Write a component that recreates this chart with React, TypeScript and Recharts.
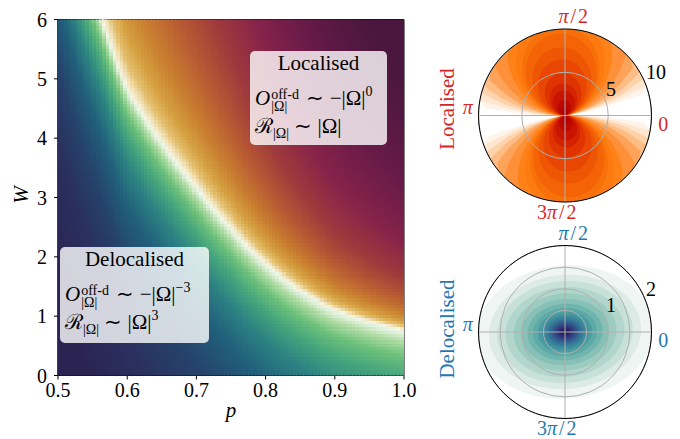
import React from 'react';
import {
  ComposedChart, Scatter, Line, XAxis, YAxis, ReferenceArea,
  RadarChart, Radar, PolarGrid, PolarAngleAxis, PolarRadiusAxis,
} from 'recharts';

const SERIF = "'Liberation Serif', 'Times New Roman', Times, serif";
const RED = '#d62728';
const BLUE = '#1f77b4';

// ---------- main panel data ----------
// critical (white) line W_c(p)
const CURVE_P = [0.5, 0.52, 0.54, 0.565, 0.6, 0.65, 0.7, 0.75, 0.8, 0.85, 0.9, 0.95, 1.0];
const CURVE_W = [8.3, 7.5, 6.75, 6.0, 4.85, 3.95, 3.2, 2.5, 1.9, 1.45, 1.12, 0.92, 0.77];
const X_TICKS = [0.5, 0.6, 0.7, 0.8, 0.9, 1.0];
const Y_TICKS = [0, 1, 2, 3, 4, 5, 6];
const P_RANGE = [0.5, 1.0];
const W_RANGE = [0, 6];
const NX = 100;
const NY = 110;

// colour ramps (style)
const BELOW: [number, string][] = [
  [0, '#eef7ea'], [0.08, '#dcefd6'], [0.2, '#b0dca4'], [0.45, '#6cc07a'], [0.8, '#45a57c'],
  [1.3, '#2c8282'], [2.0, '#215f7b'], [3.0, '#25436c'], [4.3, '#2a305e'], [6.5, '#2b2453'],
];
const ABOVE: [number, string][] = [
  [0, '#f8f2e0'], [0.05, '#f0e2b8'], [0.12, '#e4c070'], [0.25, '#d5a040'], [0.45, '#c97f30'],
  [0.75, '#b85a33'], [1.1, '#a03a3c'], [1.55, '#86234a'], [2.1, '#661a48'], [2.7, '#4a173e'],
];

const hex = (h: string) => [1, 3, 5].map((i) => parseInt(h.slice(i, i + 2), 16));
function ramp(stops: [number, string][], t: number): string {
  if (t <= stops[0][0]) return stops[0][1];
  for (let i = 0; i < stops.length - 1; i++) {
    const [t0, c0] = stops[i];
    const [t1, c1] = stops[i + 1];
    if (t <= t1) {
      const f = (t - t0) / (t1 - t0);
      const a = hex(c0), b = hex(c1);
      return `rgb(${a.map((v, k) => Math.round(v + (b[k] - v) * f)).join(',')})`;
    }
  }
  return stops[stops.length - 1][1];
}
function wcAt(p: number): number {
  for (let i = 0; i < CURVE_P.length - 1; i++) {
    if (p <= CURVE_P[i + 1]) {
      const f = (p - CURVE_P[i]) / (CURVE_P[i + 1] - CURVE_P[i]);
      return Math.exp(Math.log(CURVE_W[i]) + (Math.log(CURVE_W[i + 1]) - Math.log(CURVE_W[i])) * f);
    }
  }
  return CURVE_W[CURVE_W.length - 1];
}
function colourAt(p: number, w: number): string {
  const c = wcAt(p);
  if (w >= c) return ramp(ABOVE, Math.log2(w / c));
  return ramp(BELOW, c - w);
}

const curveData = CURVE_P.map((p, i) => ({ p, W: CURVE_W[i] }));
const cells: { p: number; W: number; col: string }[] = [];
for (let i = 0; i < NX; i++) {
  for (let j = 0; j < NY; j++) {
    const p = P_RANGE[0] + ((i + 0.5) * (P_RANGE[1] - P_RANGE[0])) / NX;
    const W = W_RANGE[0] + ((j + 0.5) * (W_RANGE[1] - W_RANGE[0])) / NY;
    cells.push({ p, W, col: colourAt(p, W) });
  }
}

const CHART_W = 420, CHART_H = 439;
const MARGIN = { top: 19.5, right: 16, bottom: 23.5, left: 18 };
const Y_AXIS_W = 40, X_AXIS_H = 40;
const PLOT_W = CHART_W - MARGIN.left - MARGIN.right - Y_AXIS_W;
const PLOT_H = CHART_H - MARGIN.top - MARGIN.bottom - X_AXIS_H;
const CELL_W = PLOT_W / NX + 1;
const CELL_H = PLOT_H / NY + 1;

const CellShape = (props: any) => {
  const { cx, cy } = props;
  const col = props.payload?.col ?? props.col;
  return (
    <rect x={cx - CELL_W / 2} y={cy - CELL_H / 2} width={CELL_W} height={CELL_H} fill={col} stroke="none" shapeRendering="crispEdges" />
  );
};

const TXT = { fontFamily: SERIF, fontSize: 20 };
const XTick = (props: any) => {
  const { x, y, payload } = props;
  return (
    <text x={x} y={y} dy={15} textAnchor="middle" fill="#000" style={TXT}>{Number(payload.value).toFixed(1)}</text>
  );
};
const YTick = (props: any) => {
  const { x, y, payload } = props;
  return (
    <text x={x} y={y} dy={7} textAnchor="end" fill="#000" style={TXT}>{String(payload.value)}</text>
  );
};

// ---------- polar panels data ----------
const ANGLES = Array.from({ length: 72 }, (_, i) => i * 5);
// relative radius of a contour vs angle (0..90 deg, step 5), mirrored to all quadrants
const LOC_PROFILE = [0, 0.026, 0.072, 0.132, 0.2, 0.275, 0.354, 0.434, 0.515, 0.595, 0.67, 0.742, 0.806, 0.863, 0.911, 0.949, 0.977, 0.994, 1.0];
const LOC_LEVELS = [128, 76, 52, 37, 27, 19.4, 14.2, 11.9, 10.4, 9.5, 7.9, 6.5, 4.9, 3.7, 2.9, 1.8, 1.0, 0.5];
const LOC_COLORS = [
  '#fff4ea', '#ffe6cf', '#fed3ab', '#fdbd84', '#fda45a', '#fd9038', '#ff8218', '#fc7a10', '#f8700a',
  '#f46406', '#ee5604', '#e84602', '#df3400', '#d42300', '#c81400', '#bd0800', '#b20200', '#aa0000',
];
const LOC_RMAX = 10;
const LOC_RTICKS = [5, 10];
const LOC_RLABELS = [5, 10];

const DELOC_PROFILE = [1, 0.997, 0.988, 0.975, 0.957, 0.937, 0.915, 0.892, 0.87, 0.849, 0.829, 0.811, 0.795, 0.781, 0.77, 0.761, 0.755, 0.751, 0.75];
const DELOC_LEVELS = [2.05, 1.76, 1.57, 1.38, 1.19, 1.02, 0.87, 0.74, 0.63, 0.54, 0.46, 0.39, 0.33, 0.28, 0.23, 0.19, 0.155, 0.12, 0.09, 0.06, 0.035];
const DELOC_COLORS = [
  '#eef5f2', '#dcebe5', '#c8e1d8', '#b2d6cb', '#9ccbc0', '#86c0b6', '#70b5ad', '#5ca9a6', '#4b9ca1',
  '#3f8e9e', '#387f9a', '#347095', '#33618f', '#325289', '#324483', '#31387b', '#2f2e72', '#2c2668',
  '#2a215f', '#281d57', '#261a50',
];
const DELOC_RMAX = 2;
const DELOC_RTICKS = [0.5, 1, 1.5, 2];
const DELOC_RLABELS = [1, 2];

const fold = (a: number) => (a <= 90 ? a : a <= 180 ? 180 - a : a <= 270 ? a - 180 : 360 - a);
function buildRows(profile: number[], levels: number[], rmax: number) {
  return ANGLES.map((a) => {
    const row: Record<string, number> = { angle: a, edge: rmax };
    const f = profile[Math.round(fold(a) / 5)];
    levels.forEach((c, k) => {
      row[`l${k}`] = Math.min(c * f, rmax);
    });
    return row;
  });
}
const locRows = buildRows(LOC_PROFILE, LOC_LEVELS, LOC_RMAX);
const delocRows = buildRows(DELOC_PROFILE, DELOC_LEVELS, DELOC_RMAX);

const POLAR_W = 250, POLAR_H = 228, POLAR_R = 86.5;

function angleLabel(v: number) {
  if (v === 0) return <tspan>0</tspan>;
  if (v === 90) return (<><tspan fontStyle="italic">π</tspan><tspan dx={2}>/</tspan><tspan dx={2}>2</tspan></>);
  if (v === 180) return <tspan fontStyle="italic">π</tspan>;
  return (<><tspan>3</tspan><tspan fontStyle="italic">π</tspan><tspan dx={2}>/</tspan><tspan dx={2}>2</tspan></>);
}
const makeAngleTick = (color: string) => (props: any) => {
  const { x, y, payload } = props;
  const v = Number(payload?.value);
  if (![0, 90, 180, 270].includes(v)) return <g />;
  let tx = x, ty = y, anchor: any = 'middle';
  if (v === 0) { tx = x - 1; anchor = 'start'; }
  if (v === 180) { tx = x + 2; anchor = 'end'; }
  if (v === 90) { ty = y - 5; }
  if (v === 270) { ty = y + 2; }
  return (
    <text x={tx} y={ty} textAnchor={anchor} dominantBaseline="central" fill={color} style={TXT}>
      {angleLabel(v)}
    </text>
  );
};
const makeRadiusTick = (labels: number[]) => (props: any) => {
  const { x, y, payload } = props;
  const v = Number(payload?.value);
  if (!labels.includes(v)) return <g />;
  return (
    <text x={x + 1} y={y - 3} textAnchor="start" fill="#000" style={TXT}>{String(v)}</text>
  );
};

function PolarPanel(props: {
  top: number; cy: number; rows: any[]; levels: number[]; colors: string[]; rmax: number;
  rticks: number[]; rlabels: number[]; color: string;
}) {
  const { top, cy, rows, levels, colors, rmax, rticks, rlabels, color } = props;
  const common = {
    width: POLAR_W, height: POLAR_H, data: rows, cx: 135, cy, outerRadius: POLAR_R,
    startAngle: 0, endAngle: 360, margin: { top: 0, right: 0, bottom: 0, left: 0 },
  };
  return (
    <>
      <div style={{ position: 'absolute', left: 430, top }}>
        <RadarChart {...common}>
          <PolarAngleAxis dataKey="angle" tick={false} tickLine={false} axisLine={false} />
          <PolarRadiusAxis type="number" domain={[0, rmax]} tick={false} axisLine={false} />
          {levels.map((_, k) => (
            <Radar key={k} dataKey={`l${k}`} fill={colors[k]} fillOpacity={1} stroke="none" dot={false} isAnimationActive={false} />
          ))}
        </RadarChart>
      </div>
      <div style={{ position: 'absolute', left: 430, top }}>
        <RadarChart {...common}>
          <PolarGrid gridType="circle" polarAngles={[0, 90, 180, 270]} stroke="#b0b0b0" strokeWidth={1} />
          <PolarAngleAxis dataKey="angle" tick={makeAngleTick(color)} tickLine={false} axisLine={false} />
          <PolarRadiusAxis type="number" angle={22.5} domain={[0, rmax]} ticks={rticks as any} tickCount={rticks.length + 1}
            tick={makeRadiusTick(rlabels)} axisLine={false} />
          <Radar dataKey="edge" fill="none" stroke="#000" strokeWidth={1} dot={false} isAnimationActive={false} />
        </RadarChart>
      </div>
    </>
  );
}

// ---------- annotation boxes ----------
const DELOC_TEXT = { title: 'Delocalised', oExp: '−3', rExp: '3' };
const LOC_TEXT = { title: 'Localised', oExp: '0', rExp: '' };

function MathLine({ base, children }: { base: number; children: React.ReactNode }) {
  return (
    <div style={{ position: 'absolute', left: 5, top: base - 0.8375 * 21, fontSize: 21, lineHeight: '21px', whiteSpace: 'nowrap' }}>
      {children}
    </div>
  );
}
function PhaseBox({ left, top, width, height, text }: any) {
  return (
    <div style={{
      position: 'absolute', left, top, width, height, background: 'rgba(255,255,255,0.8)',
      borderRadius: 5, fontFamily: SERIF, color: '#000',
    }}>
      <div style={{ position: 'absolute', left: 0, width: '100%', textAlign: 'center', top: 19.5 - 0.8375 * 21, fontSize: 21, lineHeight: '21px' }}>
        {text.title}
      </div>
      <MathLine base={55}>
        <i>O</i>
        <span style={{ display: 'inline-block', position: 'relative', width: 30, height: 0, marginLeft: 1 }}>
          <span style={{ position: 'absolute', left: 0, top: -17.7, fontSize: 14, lineHeight: '14px' }}>off-d</span>
          <span style={{ position: 'absolute', left: 0, top: -5.2, fontSize: 14, lineHeight: '14px' }}>|Ω|</span>
        </span>
        {' ∼ −|Ω|'}
        <span style={{ position: 'relative', top: -9, fontSize: 14 }}>{text.oExp}</span>
      </MathLine>
      <MathLine base={83}>
        <span>ℛ</span>
        <span style={{ position: 'relative', top: 5, fontSize: 14 }}>|Ω|</span>
        {' ∼ |Ω|'}
        {text.rExp ? <span style={{ position: 'relative', top: -9, fontSize: 14 }}>{text.rExp}</span> : null}
      </MathLine>
    </div>
  );
}

export default function App() {
  return (
    <div style={{ position: 'absolute', left: 0, top: 0, width: 680, height: 439, background: '#fff', fontFamily: SERIF }}>
      <div style={{ position: 'absolute', left: 0, top: 0 }}>
        <ComposedChart width={CHART_W} height={CHART_H} margin={MARGIN}>
          <XAxis type="number" dataKey="p" domain={P_RANGE} ticks={X_TICKS} allowDataOverflow height={X_AXIS_H}
            tickSize={4} tickMargin={2} tick={<XTick />} tickLine={{ stroke: '#000' }} axisLine={{ stroke: '#000' }} />
          <YAxis type="number" dataKey="W" domain={W_RANGE} ticks={Y_TICKS} allowDataOverflow width={Y_AXIS_W}
            tickSize={4} tickMargin={7} tick={<YTick />} tickLine={{ stroke: '#000' }} axisLine={{ stroke: '#000' }} />
          <Scatter data={cells} dataKey="W" shape={CellShape} isAnimationActive={false} />
          <Line data={curveData} dataKey="W" type="monotone" stroke="#ffffff" strokeOpacity={0.35} strokeWidth={8} dot={false} activeDot={false} isAnimationActive={false} />
          <Line data={curveData} dataKey="W" type="monotone" stroke="#ffffff" strokeOpacity={0.5} strokeWidth={4.5} dot={false} activeDot={false} isAnimationActive={false} />
          <Line data={curveData} dataKey="W" type="monotone" stroke="#ffffff" strokeWidth={2} dot={false} activeDot={false} isAnimationActive={false} />
          <ReferenceArea x1={P_RANGE[0]} x2={P_RANGE[1]} y1={W_RANGE[0]} y2={W_RANGE[1]} fill="none" fillOpacity={0} stroke="#000" strokeWidth={1} ifOverflow="visible" />
        </ComposedChart>
      </div>

      <PhaseBox left={60} top={247} width={149} height={96} text={DELOC_TEXT} />
      <PhaseBox left={250} top={51} width={137} height={94} text={LOC_TEXT} />

      <div style={{ position: 'absolute', left: 231, top: 417.5 - 0.8375 * 21, transform: 'translateX(-50%)', fontSize: 21, lineHeight: '21px', fontStyle: 'italic' }}>p</div>
      <div style={{ position: 'absolute', left: 20.5, top: 194.5, transform: 'translate(-50%,-50%) rotate(-90deg)', fontSize: 21, lineHeight: '21px', fontStyle: 'italic' }}>W</div>

      <PolarPanel top={0} cy={115.5} rows={locRows} levels={LOC_LEVELS} colors={LOC_COLORS} rmax={LOC_RMAX}
        rticks={LOC_RTICKS} rlabels={LOC_RLABELS} color={RED} />
      <PolarPanel top={211} cy={121} rows={delocRows} levels={DELOC_LEVELS} colors={DELOC_COLORS} rmax={DELOC_RMAX}
        rticks={DELOC_RTICKS} rlabels={DELOC_RLABELS} color={BLUE} />

      <div style={{ position: 'absolute', left: 447, top: 109, transform: 'translate(-50%,-50%) rotate(-90deg)', color: RED, fontSize: 21, lineHeight: '21px', whiteSpace: 'nowrap' }}>Localised</div>
      <div style={{ position: 'absolute', left: 447, top: 329, transform: 'translate(-50%,-50%) rotate(-90deg)', color: BLUE, fontSize: 21, lineHeight: '21px', whiteSpace: 'nowrap' }}>Delocalised</div>
    </div>
  );
}
